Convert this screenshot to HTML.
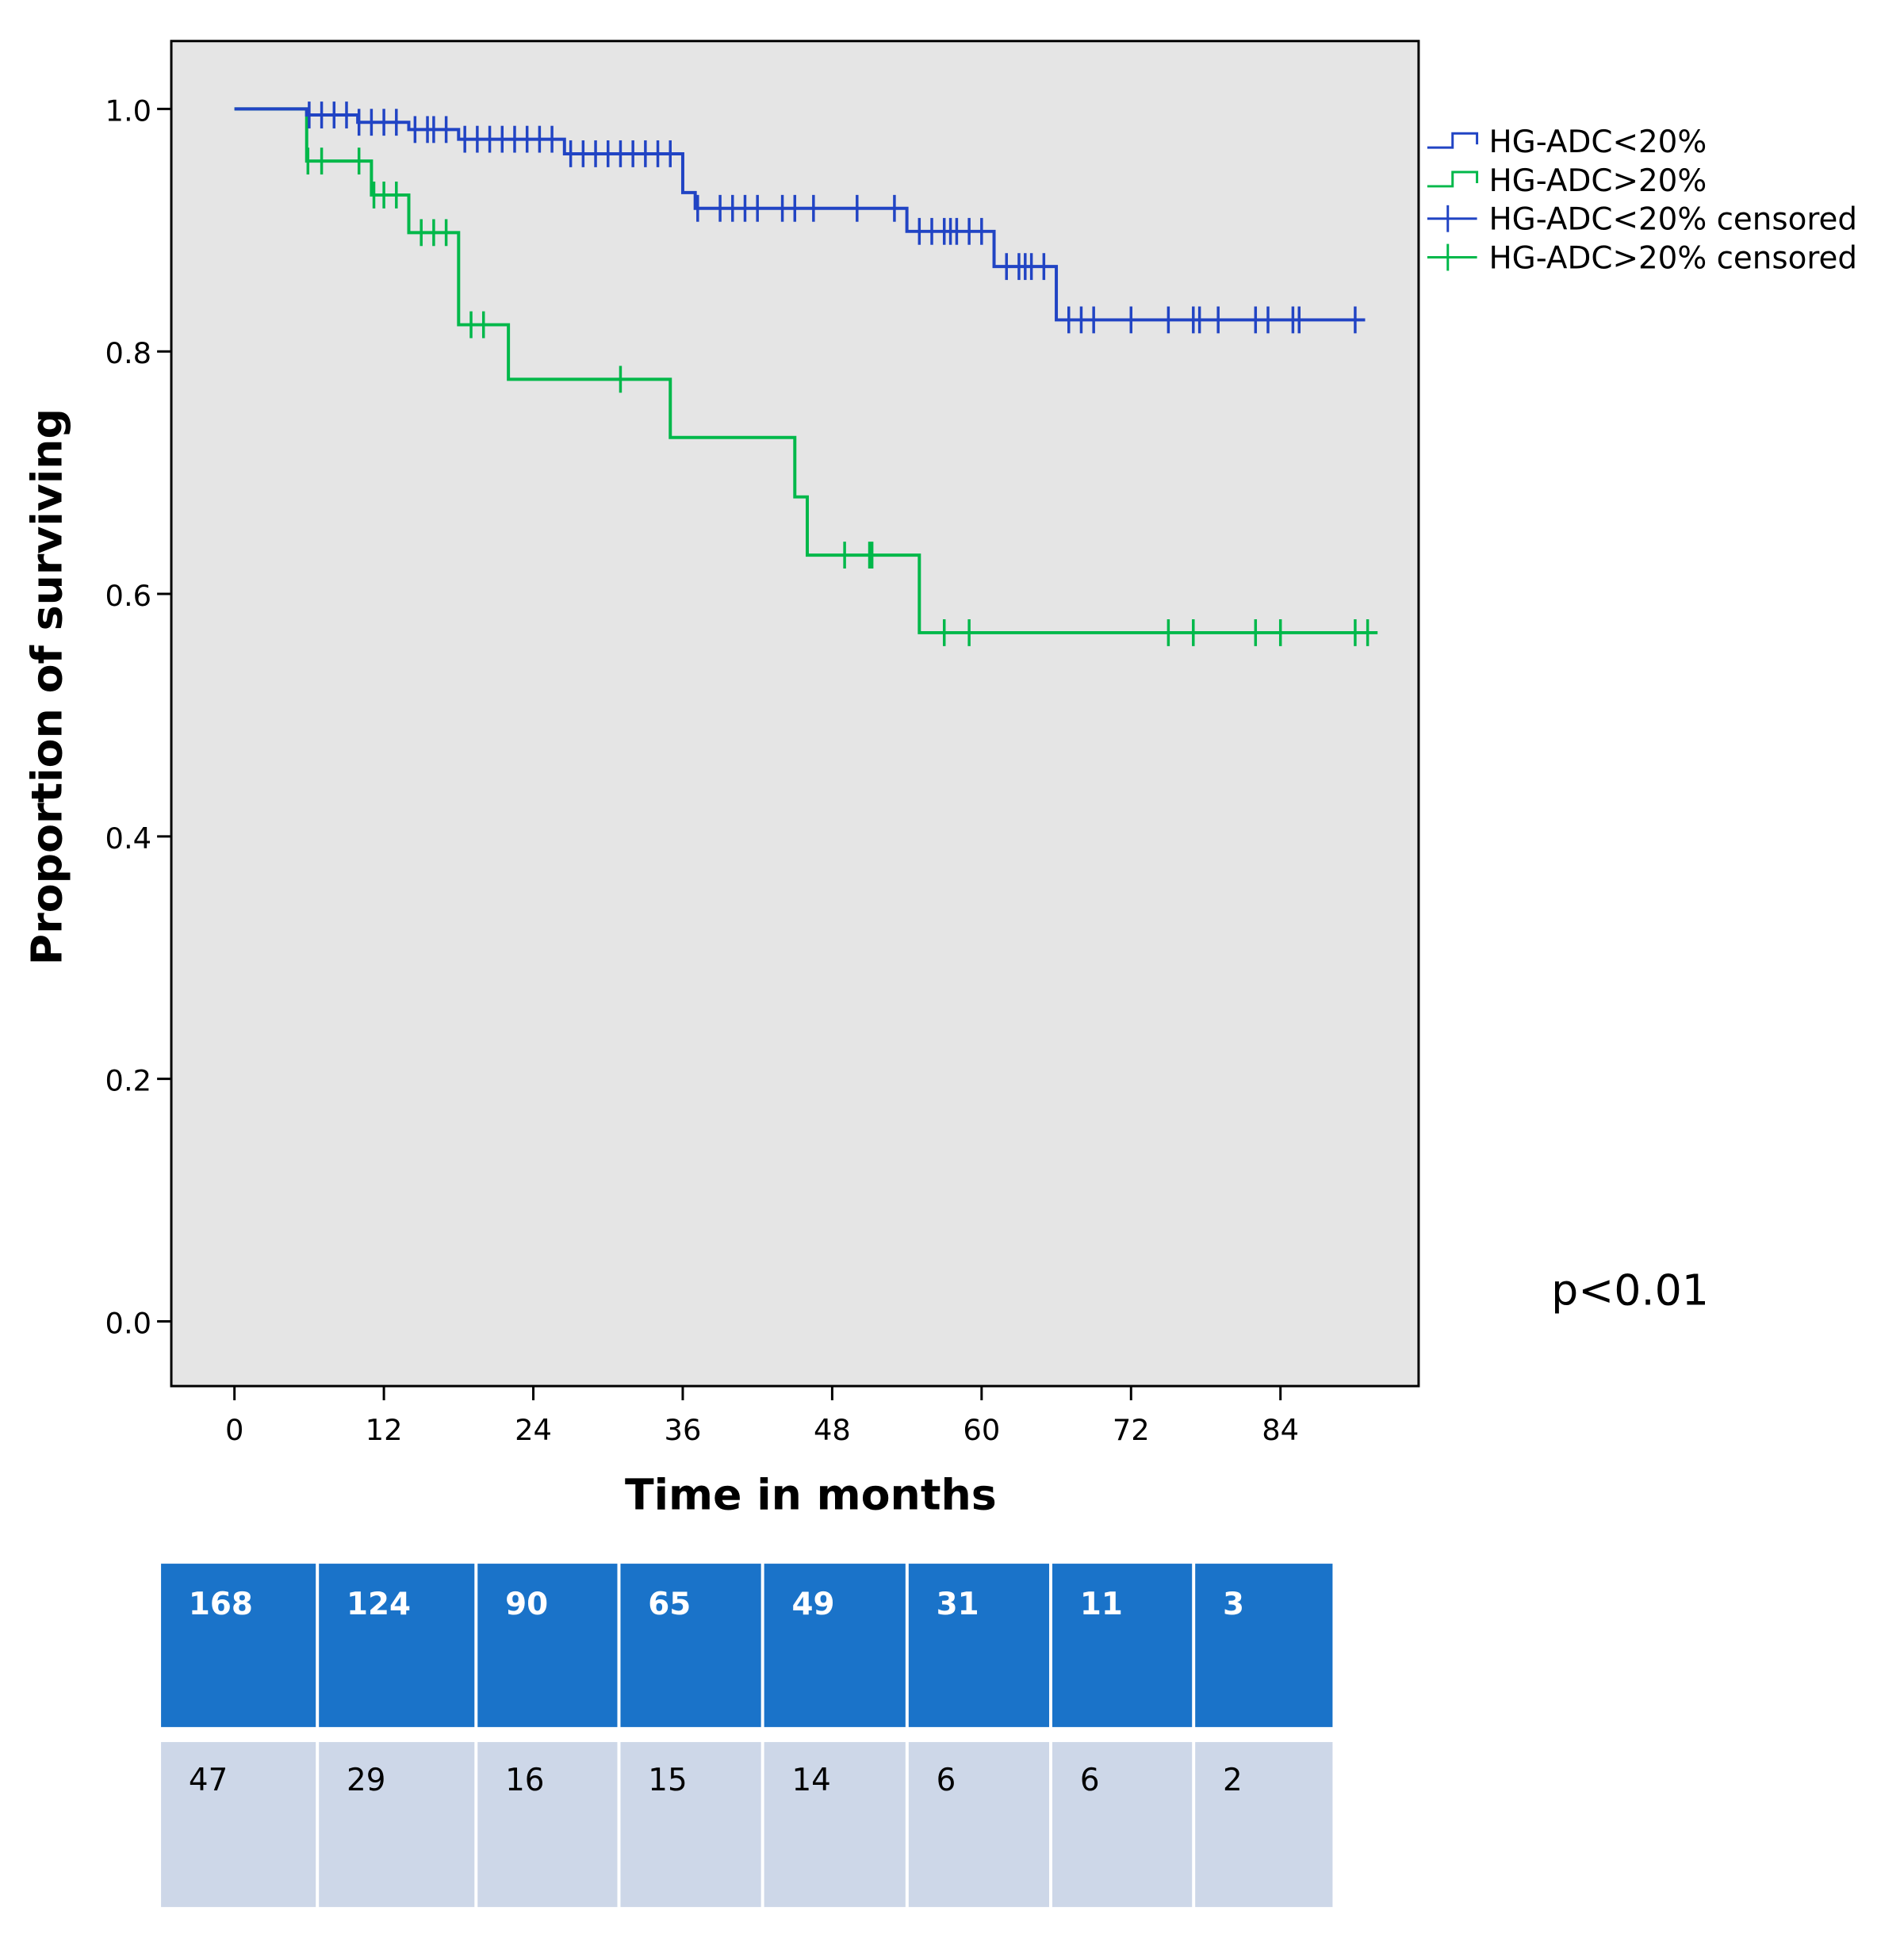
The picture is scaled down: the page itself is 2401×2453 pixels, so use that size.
<!DOCTYPE html>
<html><head><meta charset="utf-8"><style>
html,body{margin:0;padding:0;background:#fff;}
svg{display:block;}
text{font-family:"DejaVu Sans","Liberation Sans",sans-serif;}
</style></head><body>
<svg id="chart" width="2401" height="2453" viewBox="0 0 2401 2453" xmlns="http://www.w3.org/2000/svg">
<g transform="scale(0.9955)">
<rect x="217" y="52" width="1580" height="1704" fill="#e5e5e5" stroke="#000" stroke-width="3"/>
<g id="axes"></g>
<g id="series"></g>
<text x="0" y="0" transform="translate(78,870) rotate(-90)" text-anchor="middle" font-size="54" font-weight="bold">Proportion of surviving</text>
<text x="1027" y="1912" text-anchor="middle" font-size="54" font-weight="bold">Time in months</text>
<text x="1965" y="1653" font-size="54">p&lt;0.01</text>
<g id="legend"></g>
<g id="table"></g>
</g>
</svg>
<script>
const xTicks=[0,12,24,36,48,60,72,84];
const yTicks=[0.0,0.2,0.4,0.6,0.8,1.0];
const blueTimes=[0,5.8,9.9,14,18,26.5,36,37,54,61,66];
const blueSurv=[1,0.995,0.989,0.983,0.975,0.963,0.931,0.918,0.899,0.870,0.826];
const blueEnd=90.8;
const blueCensor=[6,7,8,9,10,11,12,13,14.5,15.5,16,17,18.5,19.5,20.5,21.5,22.5,23.5,24.5,25.5,27,28,29,30,31,32,33,34,35,37.2,39,40,41,42,44,45,46.5,50,53,55,56,57,57.5,58,59,60,62,63,63.5,64,65,67,68,69,72,75,77,77.5,79,82,83,85,85.5,90];
const greenTimes=[0,5.8,11,14,18,22,35,45,46,55];
const greenSurv=[1,0.957,0.929,0.898,0.822,0.777,0.729,0.680,0.632,0.568];
const greenEnd=91.8;
const greenCensor=[5.9,7,10,11.2,12,13,15,16,17,19,20,31,49,51,51.2,57,59,75,77,82,84,90,91];
const riskLow=[168,124,90,65,49,31,11,3];
const riskHigh=[47,29,16,15,14,6,6,2];

const NS="http://www.w3.org/2000/svg";
const X=t=>297+t*(1325/84);
const Y=s=>1674-s*1536;
function mk(tag,attrs,parent){const e=document.createElementNS(NS,tag);for(const k in attrs)e.setAttribute(k,attrs[k]);parent.appendChild(e);return e;}
const axes=document.getElementById('axes');
xTicks.forEach(t=>{
  const l=mk('line',{x1:X(t),x2:X(t),y1:1756,y2:1774,stroke:'#000','stroke-width':3},axes);
  
  
  const tx=mk('text',{x:X(t),y:1824,'text-anchor':'middle','font-size':37},axes);
  tx.textContent=t;
  
  
});
yTicks.forEach(v=>{
  const l=mk('line',{x1:199,x2:217,y1:Y(v),y2:Y(v),stroke:'#000','stroke-width':3},axes);
  
  
  const tx=mk('text',{x:192,y:Y(v)+15,'text-anchor':'end','font-size':37},axes);
  tx.textContent=v.toFixed(1);
  
  
});
const series=document.getElementById('series');
function survAt(times,surv,t){let s=surv[0];for(let i=0;i<times.length;i++)if(times[i]<=t)s=surv[i];return s;}
function drawCurve(times,surv,end,cens,color,name){
  let d='M'+X(times[0])+','+Y(surv[0]);
  for(let i=1;i<times.length;i++){d+=' H'+X(times[i])+' V'+Y(surv[i]);}
  d+=' H'+X(end);
  const p=mk('path',{d:d,fill:'none',stroke:color,'stroke-width':4},series);
  
  
  cens.forEach(t=>{
    const y=Y(survAt(times,surv,t));
    const c=mk('line',{x1:X(t),x2:X(t),y1:y-17,y2:y+17,stroke:color,'stroke-width':3.5},series);
    
    
  });
}
drawCurve(greenTimes,greenSurv,greenEnd,greenCensor,'#00b84a','hg-adc-high');
drawCurve(blueTimes,blueSurv,blueEnd,blueCensor,'#2144c4','hg-adc-low');

const lg=document.getElementById('legend');
const entries=[['HG-ADC<20%','#2144c4','step'],['HG-ADC>20%','#00b84a','step'],['HG-ADC<20% censored','#2144c4','cross'],['HG-ADC>20% censored','#00b84a','cross']];
entries.forEach((e,i)=>{
  const cy=179+i*49;
  const g=mk('g',{},lg);
  
  
  if(e[2]==='step'){
    mk('path',{d:`M1808,${cy+8} H1840 V${cy-10} H1871 V${cy+4}`,fill:'none',stroke:e[1],'stroke-width':3},g);
  }else{
    mk('line',{x1:1808,x2:1871,y1:cy,y2:cy,stroke:e[1],'stroke-width':3},g);
    mk('line',{x1:1834,x2:1834,y1:cy-17,y2:cy+17,stroke:e[1],'stroke-width':3},g);
  }
  const t=mk('text',{x:1886,y:cy+14,'font-size':39},g);
  t.textContent=e[0];
});

const tb=document.getElementById('table');
const colX=[204,404,605,786,968,1151,1333,1514,1692];
for(let i=0;i<8;i++){
  const w=colX[i+1]-colX[i]-4;
  const r1=mk('rect',{x:colX[i],y:1981,width:w,height:207,fill:'#1a73c9'},tb);
  
  
  const t1=mk('text',{x:colX[i]+35,y:2045,'font-size':39,'font-weight':'bold',fill:'#fff'},tb);
  t1.textContent=riskLow[i];
  const r2=mk('rect',{x:colX[i],y:2207,width:w,height:209,fill:'#cdd7e8'},tb);
  
  
  const t2=mk('text',{x:colX[i]+35,y:2268,'font-size':39,fill:'#000'},tb);
  t2.textContent=riskHigh[i];
}
</script>
</body></html>
